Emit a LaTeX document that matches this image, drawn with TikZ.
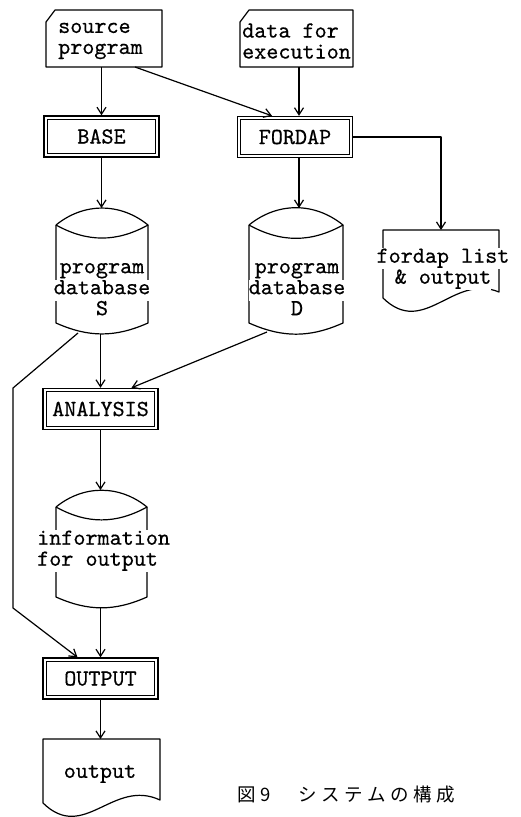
\documentclass[tikz,border=0pt]{standalone}
\usepackage{fontspec}
\newfontfamily\cjkfont[LetterSpace=25]{Noto Sans CJK JP}
\newfontfamily\tyfont[FakeBold=0.5]{lmmono10-regular.otf}
\usetikzlibrary{arrows.meta,calc}
\newcommand\tttxt{\tyfont\fontsize{23}{21}\selectfont}
\newcommand\cjkcap{\cjkfont\fontsize{18.5}{20}\selectfont}
\newcommand\wl[1]{{\setlength{\fboxsep}{0pt}\colorbox{white}{\strut#1}}}
\begin{document}
\begin{tikzpicture}[x=1pt,y=-1pt,
  ln/.style={line width=1.2pt, line join=round},
  arr/.style={ln, -{Straight Barb[length=7pt,width=9pt]}},
  proc/.style={draw, line width=1.4pt, minimum width=115pt, minimum height=41pt,
    inner sep=0pt, font=\tttxt},
  procin/.style={draw, line width=1pt},
  shapebox/.style={inner sep=0pt, outer sep=0pt},
  txt/.style={inner sep=0pt, font=\tttxt, align=center},
]
\useasboundingbox (0,0) rectangle (520,817);

% ---- input cards
\node[shapebox, minimum width=116pt, minimum height=57pt] (src) at (104,38.5) {};
\draw[ln] ($(src.north west)+(9,0)$) -- (src.north east) -- (src.south east)
  -- (src.south west) -- ($(src.north west)+(0,12)$) -- cycle;
\node[txt, align=left, anchor=west] (srct) at (58,41) {source\\program};

\node[shapebox, minimum width=113pt, minimum height=57pt] (dat) at (296.5,38.5) {};
\draw[ln] ($(dat.north west)+(9,0)$) -- (dat.north east) -- (dat.south east)
  -- (dat.south west) -- ($(dat.north west)+(0,12)$) -- cycle;
\node[txt, align=left, anchor=west] (datt) at (242,41) {data for\\execution};

% ---- processes
\node[proc] (base) at (101.5,136.5) {BASE};
\node[proc] (ford) at (295,137) {FORDAP};
\node[proc] (ana) at (100.5,409) {ANALYSIS};
\node[proc] (outp) at (100.5,678.5) {OUTPUT};
\foreach \p in {base,ford,ana,outp}{
  \draw[procin] ($(\p.north west)+(4,4)$) rectangle ($(\p.south east)+(-4,-4)$);
}

% ---- cylinders
\node[shapebox, minimum width=92pt, minimum height=126pt] (dbS) at (102,271) {};
\node[shapebox, minimum width=94pt, minimum height=126pt] (dbD) at (296,271) {};
\node[shapebox, minimum width=91pt, minimum height=118pt] (info) at (101.5,549) {};
\foreach \c in {dbS,dbD,info}{
  \draw[ln] ($(\c.north west)+(0,17)$) to[bend left=39] ($(\c.north east)+(0,17)$)
    to[bend left=29] ($(\c.north west)+(0,17)$);
  \draw[ln] ($(\c.north west)+(0,17)$) -- ($(\c.south west)+(0,-11)$)
    to[bend right=24] ($(\c.south east)+(0,-11)$) -- ($(\c.north east)+(0,17)$);
}
\node[txt] (dbSt) at (102,290) {\wl{program}\\\wl{database}\\\wl{S}};
\node[txt] (dbDt) at (297,290) {\wl{program}\\\wl{database}\\\wl{D}};
\node[txt, align=left, anchor=west] (infot) at (37,551) {\wl{information}\\\wl{for output}};

% ---- documents
\node[shapebox, minimum width=116pt, minimum height=82pt] (fdoc) at (441,271) {};
\draw[ln] ($(fdoc.south west)+(0,-14)$) .. controls ($(fdoc.south west)+(41,26)$)
  and ($(fdoc.south west)+(70,-39)$) .. ($(fdoc.south east)+(0,-20)$)
  -- (fdoc.north east) -- (fdoc.north west) -- cycle;
\node[txt] (fdoct) at (443,269) {\wl{fordap list}\\\wl{\& output}};

\node[shapebox, minimum width=117pt, minimum height=78pt] (odoc) at (101.5,778) {};
\draw[ln] ($(odoc.south west)+(0,-14)$) .. controls ($(odoc.south west)+(41,26)$)
  and ($(odoc.south west)+(70,-39)$) .. ($(odoc.south east)+(0,-17)$)
  -- (odoc.north east) -- (odoc.north west) -- cycle;
\node[txt] (odoct) at (100,774) {output};

% ---- connectors
\coordinate (k1) at (13,388);
\coordinate (k2) at (13,608);
\draw[arr] (src.south -| base.north) -- (base.north);
\draw[arr] ([xshift=31pt]src.south) -- ([xshift=-23pt]ford.north);
\draw[arr] ([xshift=4pt]ford.north |- dat.south) -- ([xshift=4pt]ford.north);
\draw[arr] (ford.east) -| (fdoc.north);
\draw[arr] ([xshift=4pt]ford.south) -- ([xshift=4pt]ford.south |- dbD.north);
\draw[arr] (base.south) -- (base.south |- dbS.north);
\draw[arr] (dbS.south -| ana.north) -- (ana.north);
\draw[arr] ([xshift=-29pt,yshift=2pt]dbD.south) -- ([xshift=31pt]ana.north);
\draw[arr] ([xshift=-24pt,yshift=1pt]dbS.south) -- (k1) -- (k2) -- ([xshift=-23pt]outp.north);
\draw[arr] (ana.south) -- (ana.south |- info.north);
\draw[arr] (info.south -| outp.north) -- (outp.north);
\draw[arr] (outp.south) -- (outp.south |- odoc.north);

% ---- caption
\node[anchor=west, inner sep=0pt, font=\cjkcap] (cap) at (237,795) {図9　システムの構成};
\end{tikzpicture}
\end{document}
